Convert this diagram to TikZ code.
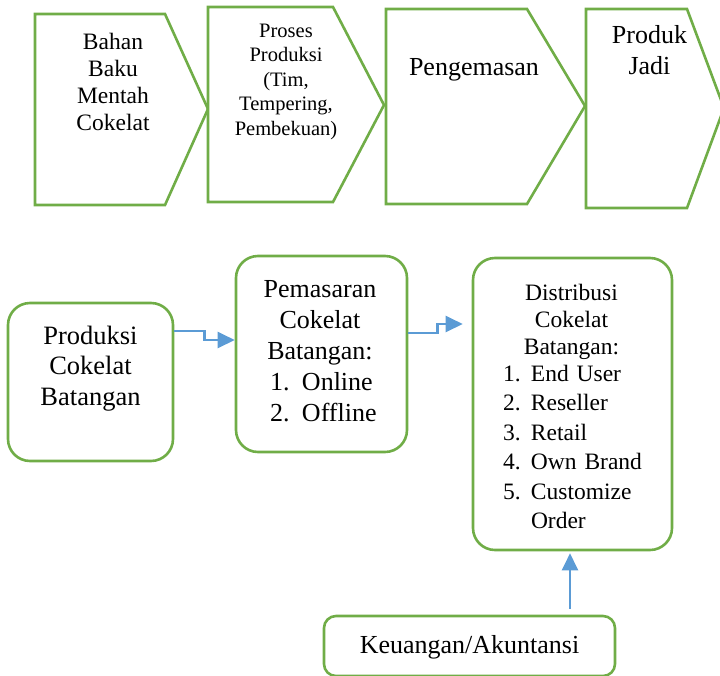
\documentclass[tikz,border=0pt]{standalone}
\usepackage{fontspec}
\setmainfont{Liberation Serif}
\usepackage{tikz}
\usetikzlibrary{arrows.meta}

\definecolor{leafgreen}{HTML}{70AD47}
\definecolor{skyblue}{HTML}{5B9BD5}

\newcommand{\listnum}[2][28pt]{\makebox[#1][l]{#2}}

\tikzset{
  chev/.style={draw=leafgreen, line width=2.6pt, line join=miter, fill=white},
  card/.style={draw=leafgreen, line width=2.6pt, rounded corners=22pt, inner sep=0pt},
  flow/.style={draw=skyblue, line width=2.4pt, -{Triangle[length=17pt,width=16pt]}},
  txt/.style={inner sep=0pt, anchor=base, text width=#1, align=center},
  listtxt/.style={inner sep=0pt, anchor=base, text width=#1},
}

\begin{document}
\begin{tikzpicture}[x=1pt, y=-1pt]
        \useasboundingbox (0,0) rectangle (720,675);
        \clip (0,0) rectangle (720,675);
        % alur produksi
        \draw[chev] (35,14) -- (165,14) -- (208,109) -- (165,205) -- (35,205) -- cycle;
        \draw[chev] (208,7) -- (333,7) -- (384,105) -- (333,202) -- (208,202) -- cycle;
        \draw[chev] (386,9) -- (527,9) -- (585,106) -- (527,204) -- (386,204) -- cycle;
        \draw[chev] (586,9) -- (687,9) -- (724,108) -- (687,208) -- (586,208) -- cycle;
        \node[txt=100pt, font=\fontsize{23.5}{27}\selectfont] (bahan) at (113,49)
          {Bahan\\ Baku\\ Mentah\\ Cokelat};
        \node[txt=120pt, font=\fontsize{20.5}{24.5}\selectfont] (proses) at (286,37)
          {Proses\\ Produksi\\ (Tim,\\ Tempering,\\ Pembekuan)};
        \node[txt=150pt, font=\fontsize{26}{31}\selectfont] (kemas) at (474,75) {Pengemasan};
        \node[txt=90pt, font=\fontsize{26}{31}\selectfont] (jadi) at (649.5,43) {Produk\\ Jadi};

        % rantai pemasaran
        \node[card, minimum width=165pt, minimum height=158pt] (prod) at (90.5,382) {};
        \node[card, minimum width=171pt, minimum height=196pt] (pem) at (321.5,354) {};
        \node[card, minimum width=199pt, minimum height=292pt] (dist) at (572.5,404) {};
        \node[card, rounded corners=12pt, minimum width=291pt, minimum height=60pt] (keu) at (469.5,646) {};

        \node[txt=150pt, font=\fontsize{26.5}{30.5}\selectfont] (prodtxt) at (90.5,344)
          {Produksi\\ Cokelat\\ Batangan};
        \node[listtxt=160pt, font=\fontsize{26}{31}\selectfont] (pemtxt) at (320,297)
          {\centering Pemasaran\\ Cokelat\\ Batangan:\par
           \leftskip=30pt\rightskip=0pt plus 1fil\parfillskip=0pt plus 1fil
           \listnum[32pt]{1.}Online\\ \listnum[32pt]{2.}Offline\par};
        \node[listtxt=190pt, font=\fontsize{23.5}{27}\selectfont] (disttxt) at (571.5,300)
          {\centering Distribusi\\ Cokelat\\ Batangan:\par
           \vspace*{-2.5pt}
           \fontsize{23.5}{29.5}\selectfont
           \leftskip=26.5pt\rightskip=0pt plus 1fil\parfillskip=0pt plus 1fil
           \listnum{1.}End User\\ \listnum{2.}Reseller\\ \listnum{3.}Retail\\
           \listnum{4.}Own Brand\\ \listnum{5.}Customize\\ \listnum{}Order\par};
        \node[txt=280pt, font=\fontsize{26}{31}\selectfont] (keutxt) at (469.5,653)
          {Keuangan/Akuntansi};

        \draw[flow] ([yshift=51pt]prod.east) -- ++(30,0) |- ([yshift=14pt]pem.west);
        \draw[flow] ([yshift=21pt]pem.east) -- ++(29,0) |- ([xshift=-9pt,yshift=80pt]dist.west);
        \draw[flow] ([xshift=100.5pt,yshift=6pt]keu.north) -- ([xshift=-2.5pt,yshift=-2pt]dist.south);
\end{tikzpicture}
\end{document}
